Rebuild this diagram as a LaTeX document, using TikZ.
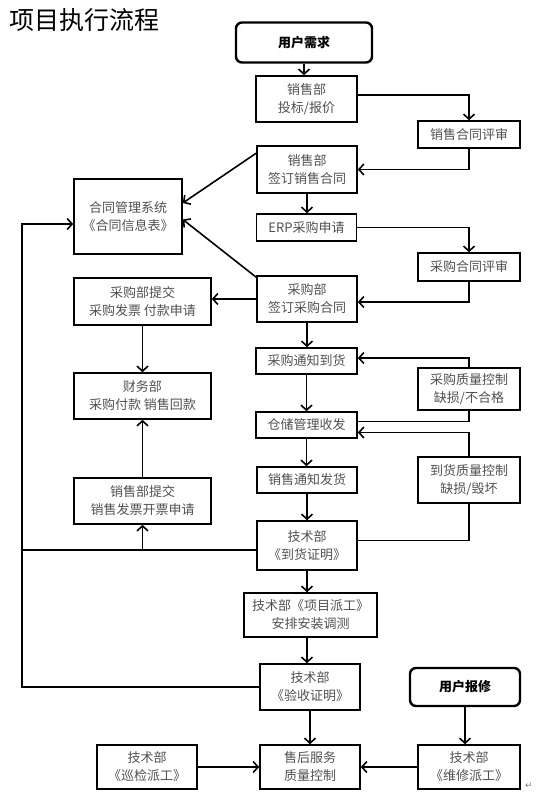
\documentclass[tikz,border=0pt]{standalone}
\usepackage{fontspec}
\setmainfont{Noto Sans CJK SC}
\newfontfamily\symfont{DejaVu Sans}
\usetikzlibrary{arrows.meta,calc}
\definecolor{txtgray}{HTML}{505050}
\tikzset{
  box/.style={draw, line width=1.6pt, inner sep=0pt, align=center, text=txtgray,
    font=\fontsize{13}{18}\selectfont},
  rbox/.style={draw, line width=2.4pt, rounded corners=6pt, inner sep=0pt, align=center,
    text=black, font=\fontsize{13}{18}\selectfont\bfseries},
  conn/.style={line width=1.6pt},
  arr/.style={line width=1.6pt, -{Straight Barb[length=5pt,width=11pt]}}
}
\begin{document}
\begin{tikzpicture}[x=1pt,y=-1pt]
\useasboundingbox (0,0) rectangle (536,796);
\node[anchor=west, font=\fontsize{25}{25}\selectfont] (title) at (6,20) {项目执行流程};

\node[rbox, minimum width=136pt, minimum height=40pt] (need) at (304,42.5) {用户需求};
\node[box, minimum width=101pt, minimum height=46pt] (bid) at (306.5,99) {销售部\\投标/报价};
\node[box, minimum width=102pt, minimum height=27pt] (srev) at (469,134.5) {销售合同评审};
\node[box, minimum width=100pt, minimum height=47pt] (ssign) at (307,169.5) {销售部\\签订销售合同};
\node[box, minimum width=108pt, minimum height=75pt] (cms) at (128,216.5) {合同管理系统\\《合同信息表》};
\node[box, minimum width=100pt, minimum height=27pt] (erp) at (306.5,227.5) {ERP采购申请};
\node[box, minimum width=102pt, minimum height=28pt] (prev) at (469,267) {采购合同评审};
\node[box, minimum width=100pt, minimum height=46pt] (psign) at (307,299) {采购部\\签订采购合同};
\node[box, minimum width=137pt, minimum height=47pt] (psub) at (142.5,301.5) {采购部提交\\采购发票 付款申请};
\node[box, minimum width=101pt, minimum height=26pt] (pnot) at (306.5,361) {采购通知到货};
\node[box, minimum width=102pt, minimum height=42pt] (pqc) at (469,389) {采购质量控制\\缺损/不合格};
\node[box, minimum width=137pt, minimum height=46pt] (fin) at (142.5,396) {财务部\\采购付款 销售回款};
\node[box, minimum width=101pt, minimum height=26pt] (wh) at (306.5,425) {仓储管理收发};
\node[box, minimum width=100pt, minimum height=26pt] (snot) at (307,480) {销售通知发货};
\node[box, minimum width=102pt, minimum height=46pt] (aqc) at (469,480) {到货质量控制\\缺损/毁坏};
\node[box, minimum width=137pt, minimum height=46pt] (ssub) at (142.5,501) {销售部提交\\销售发票开票申请};
\node[box, minimum width=100pt, minimum height=49pt] (arrv) at (307,545.5) {技术部\\《到货证明》};
\node[box, minimum width=133pt, minimum height=44pt] (proj) at (310.5,615) {技术部《项目派工》\\安排安装调测};
\node[box, minimum width=100pt, minimum height=46pt] (acc) at (310,687) {技术部\\《验收证明》};
\node[rbox, minimum width=110pt, minimum height=38pt] (rep) at (465,687) {用户报修};
\node[box, minimum width=100pt, minimum height=44pt] (insp) at (147,767) {技术部\\《巡检派工》};
\node[box, minimum width=100pt, minimum height=44pt] (svc) at (310,767) {售后服务\\质量控制};
\node[box, minimum width=102pt, minimum height=44pt] (fix) at (469,767) {技术部\\《维修派工》};
\node[font=\symfont\fontsize{9}{9}\selectfont, text=gray] (pm) at (529,786) {↵};

% main column
\draw[arr] (need.south) -- (need.south |- bid.north);
\draw[arr] ([yshift=4pt]bid.east) -| (srev.north);
\draw[arr] (srev.south) |- (ssign.east);
\draw[arr] (ssign.south) -- (ssign.south |- erp.north);
\draw[arr] (erp.east) -| (prev.north);
\draw[arr] (prev.south) |- ([yshift=-3pt]psign.east);
\draw[arr] (psign.west) -- (psign.west -| psub.east);
\draw[arr] (psub.south) -- (psub.south |- fin.north);
\draw[arr] (psign.south) -- (psign.south |- pnot.north);
\draw[arr] (pqc.north) |- ([yshift=3pt]pnot.east);
\draw[conn] (pqc.south) |- ([yshift=3.5pt]wh.east);
\draw[arr] (aqc.north) |- ([yshift=-7.5pt]wh.east);
\draw[arr] (pnot.south) -- (pnot.south |- wh.north);
\draw[arr] (wh.south) -- (wh.south |- snot.north);
\draw[arr] (snot.south) -- (snot.south |- arrv.north);
\draw[conn] (aqc.south) |- ([yshift=5pt]arrv.east);
\draw[arr] (arrv.south) -- (arrv.south |- proj.north);
\draw[arr] (proj.south -| arrv.south) -- (acc.north -| arrv.south);
\draw[arr] (acc.south) -- (acc.south |- svc.north);

% contract system arrows
\draw[arr] ([yshift=-8pt]ssign.north west) -- ([yshift=13.5pt]cms.east);
\draw[arr] ([yshift=-2pt]psign.north west) -- ([yshift=-3pt]cms.east);

% left feedback lines
\coordinate (Ltop) at (22,224);
\coordinate (Lmid) at (22,550);
\coordinate (Lbot) at (22,687);
\coordinate (J) at (142.5,550);
\draw[conn] ([yshift=-4.5pt]arrv.west) -- (Lmid);
\draw[arr] (J) -- (J |- ssub.south);
\draw[arr] (ssub.north) -- (fin.south);
\draw[arr] (acc.west) -- (Lbot) -- (Ltop) -- (Ltop -| cms.west);

% after-sales
\draw[arr] (rep.south) -- (rep.south |- fix.north);
\draw[arr] (insp.east) -- (svc.west);
\draw[arr] (fix.west) -- (svc.east);
\end{tikzpicture}
\end{document}
